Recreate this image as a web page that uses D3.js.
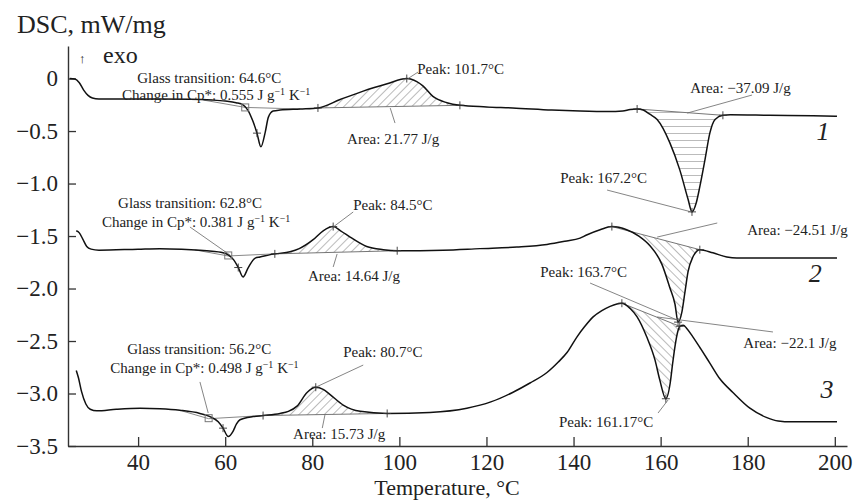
<!DOCTYPE html>
<html><head><meta charset="utf-8">
<script src="https://cdn.jsdelivr.net/npm/d3@7"></script>
<style>body{margin:0;background:#fff}svg{display:block}</style>
</head><body>
<svg id="chart" width="857" height="500"></svg>
<script>
// ---- data ----
const xTicks = [40, 60, 80, 100, 120, 140, 160, 180, 200];
const yTicks = [0, -0.5, -1.0, -1.5, -2.0, -2.5, -3.0, -3.5];

const temp1 = [24.3,25.5,26.5,27.5,28.5,29.5,31,35,45,52,57,60,62.5,64.1,65.2,66.4,67.3,68.2,69.2,69.9,71,72.6,77.2,81.3,86.4,91.7,97.2,101.7,104,105.4,107.7,110.9,113.9,120,126,135,141.5,148,151.3,153,154.6,156,157.5,159.2,162.1,164.4,166.3,167.2,168.2,169,170.2,171.3,172.5,174.3,176,185,195,200.5];
const dsc1 = [0.0,-0.005,-0.04,-0.11,-0.16,-0.185,-0.195,-0.195,-0.195,-0.197,-0.205,-0.215,-0.23,-0.25,-0.30,-0.41,-0.52,-0.65,-0.51,-0.37,-0.31,-0.30,-0.29,-0.28,-0.20,-0.12,-0.05,0.0,-0.03,-0.07,-0.17,-0.23,-0.255,-0.27,-0.28,-0.30,-0.31,-0.315,-0.31,-0.295,-0.29,-0.30,-0.34,-0.39,-0.61,-0.87,-1.15,-1.27,-1.18,-1.03,-0.77,-0.52,-0.39,-0.35,-0.345,-0.35,-0.355,-0.36];

const temp2 = [25.8,26.5,27.3,28.2,29.2,31,40,45,50,54.2,57,59,60.7,62,63,64.1,65.3,66.9,68,71.4,74.9,77,80.2,82.5,84.8,86.5,88.7,92.5,96.3,99.5,110,118.5,127,133.9,138,141.5,143,146.1,148.8,152.2,155,157.5,160.3,162.1,163.3,164,164.9,165.6,166.3,167.4,169,172,175.2,177.5,200.5];
const dsc2 = [-1.45,-1.47,-1.53,-1.60,-1.625,-1.635,-1.625,-1.62,-1.625,-1.635,-1.645,-1.655,-1.68,-1.73,-1.80,-1.89,-1.80,-1.71,-1.70,-1.67,-1.65,-1.62,-1.535,-1.45,-1.41,-1.45,-1.51,-1.60,-1.63,-1.64,-1.635,-1.62,-1.605,-1.58,-1.55,-1.52,-1.49,-1.44,-1.41,-1.44,-1.50,-1.59,-1.77,-1.99,-2.15,-2.32,-2.22,-2.03,-1.84,-1.70,-1.63,-1.66,-1.70,-1.71,-1.71];

const temp3 = [25.8,26.3,27,28,29,30.5,35,40.5,45,49.6,54.2,56.5,58.4,59.5,60.7,61.8,62.6,63.4,66.4,68.7,72.6,74.5,76.5,78.8,80.8,82.5,84.1,87.1,91,97.2,107,115.5,121,126,130,133.9,136.5,138.5,140.8,142.6,144.5,146.5,148.4,151.1,153,154.6,156.8,158.7,159.8,161.2,162.2,162.8,163.3,164,164.4,165.2,166,167.4,169.3,171.3,173.6,176.6,180.5,184.4,187,190,200.5];
const dsc3 = [-2.78,-2.85,-2.98,-3.10,-3.15,-3.165,-3.15,-3.14,-3.145,-3.16,-3.19,-3.22,-3.27,-3.33,-3.41,-3.36,-3.29,-3.25,-3.22,-3.21,-3.19,-3.17,-3.12,-2.99,-2.94,-2.96,-3.01,-3.11,-3.17,-3.19,-3.18,-3.14,-3.08,-2.99,-2.90,-2.80,-2.70,-2.61,-2.46,-2.36,-2.27,-2.21,-2.17,-2.14,-2.19,-2.27,-2.46,-2.68,-2.87,-3.05,-2.90,-2.70,-2.55,-2.40,-2.36,-2.35,-2.38,-2.46,-2.58,-2.71,-2.86,-2.99,-3.14,-3.23,-3.262,-3.27,-3.27];

// integration ranges (start, end temperature)
const areas1 = [[81.3, 113.9], [154.6, 174.3]];
const areas2 = [[71.4, 99.5], [148.8, 169]];
const areas3 = [[68.7, 97.2], [151.1, 164.4]];

// evaluation markers (temperatures)
const marks1 = [67.3, 81.3, 101.7, 113.9, 154.6, 167.2, 174.3];
const marks2 = [63, 71.4, 84.8, 99.5, 148.8, 164, 169];
const marks3 = [59.5, 68.7, 80.8, 97.2, 151.1, 161.2, 164.4];

// glass transition points and tangents [T, value]
const glass1 = [64.6, -0.275];
const glass2 = [60.7, -1.685];
const glass3 = [56.2, -3.235];
const tangent1 = [[55, -0.205], [64.6, -0.275], [77.2, -0.29]];
const tangent2 = [[53, -1.632], [60.7, -1.69], [71.4, -1.67]];
const tangent3 = [[50, -3.165], [56.2, -3.24], [68.7, -3.21]];

// annotation texts: [T, value, text, anchor]
const labels1 = [
  [39.8, -0.043, "Glass transition: 64.6°C", "start"],
  [36.3, -0.205, "Change in Cp*: 0.555 J g|−1| K|−1|", "start"],
  [104.1, 0.043, "Peak: 101.7°C", "start"],
  [88.0, -0.624, "Area: 21.77 J/g", "start"],
  [166.8, -0.138, "Area: −37.09 J/g", "start"],
  [156.9, -0.995, "Peak: 167.2°C", "end"]
];
const labels2 = [
  [35.4, -1.233, "Glass transition: 62.8°C", "start"],
  [31.7, -1.414, "Change in Cp*: 0.381 J g|−1| K|−1|", "start"],
  [89.4, -1.252, "Peak: 84.5°C", "start"],
  [79.0, -1.93, "Area: 14.64 J/g", "start"],
  [179.9, -1.49, "Area: −24.51 J/g", "start"],
  [152.3, -1.89, "Peak: 163.7°C", "end"]
];
const labels3 = [
  [37.5, -2.625, "Glass transition: 56.2°C", "start"],
  [33.6, -2.805, "Change in Cp*: 0.498 J g|−1| K|−1|", "start"],
  [87.1, -2.65, "Peak: 80.7°C", "start"],
  [75.6, -3.43, "Area: 15.73 J/g", "start"],
  [179.0, -2.567, "Area: −22.1 J/g", "start"],
  [158.3, -3.32, "Peak: 161.17°C", "end"]
];
// leader lines: [T1, v1, T2, v2]
const leaders1 = [[104.3,0.062,102,0.0],[99.0,-0.424,97.9,-0.281],[181.0,-0.157,166.1,-0.329],[147.7,-1.062,167.2,-1.272]];
const leaders2 = [[51.9,-1.414,61.1,-1.681],[89.4,-1.271,84.8,-1.414],[85.7,-1.671,84.8,-1.795],[173.0,-1.376,159.2,-1.51],[143.8,-1.948,163.8,-2.30]];
const leaders3 = [[54.2,-2.89,56.1,-3.186],[91.7,-2.729,80.9,-2.938],[82.9,-3.205,82.3,-3.329],[185.8,-2.414,159.2,-2.271],[159.4,-3.186,161.7,-3.062]];

// curve numbers: [T, value, text]
const curveNames = [[197.3, -0.586, "1"], [195.5, -1.94, "2"], [198.2, -3.04, "3"]];

// ---- drawing ----
const svg = d3.select("#chart");
const x = d3.scaleLinear().domain([23.9, 202.8]).range([68, 847]);
const y = d3.scaleLinear().domain([-3.5, 0.31]).range([446, 46]);
const serif = "'Liberation Serif','Times New Roman',serif";

const defs = svg.append("defs");
function hatch(id, angle, spacing) {
  const p = defs.append("pattern").attr("id", id).attr("patternUnits", "userSpaceOnUse")
    .attr("width", spacing).attr("height", spacing).attr("patternTransform", `rotate(${angle})`);
  p.append("line").attr("x1", 0).attr("y1", 0).attr("x2", 0).attr("y2", spacing)
    .attr("stroke", "#555").attr("stroke-width", 0.8);
}
hatch("hFwd", 45, 6);
hatch("hBack", -45, 6);
hatch("hHoriz", 90, 7);

const series = [
  {T: temp1, V: dsc1, areas: areas1, pats: ["hFwd", "hHoriz"], marks: marks1, glass: glass1, tan: tangent1, labels: labels1, leaders: leaders1},
  {T: temp2, V: dsc2, areas: areas2, pats: ["hFwd", "hBack"], marks: marks2, glass: glass2, tan: tangent2, labels: labels2, leaders: leaders2},
  {T: temp3, V: dsc3, areas: areas3, pats: ["hFwd", "hBack"], marks: marks3, glass: glass3, tan: tangent3, labels: labels3, leaders: leaders3}
];

function interp(T, V, t) {
  for (let i = 1; i < T.length; i++) {
    if (t <= T[i]) { const f = (t - T[i-1]) / (T[i] - T[i-1]); return V[i-1] + f * (V[i] - V[i-1]); }
  }
  return V[V.length - 1];
}

// axes
const xAxis = d3.axisBottom(x).tickValues(xTicks).tickSize(-9).tickSizeOuter(0).tickPadding(8).tickFormat(d3.format("d"));
const yAxis = d3.axisLeft(y).tickValues(yTicks).tickSize(-8).tickSizeOuter(0).tickPadding(10)
  .tickFormat(d => d === 0 ? "0" : "\u2212" + Math.abs(d).toFixed(1));
const gx = svg.append("g").attr("transform", "translate(0,446)").call(xAxis);
const gy = svg.append("g").attr("transform", "translate(68,0)").call(yAxis);
[gx, gy].forEach(g => {
  g.select(".domain").attr("stroke", "#333").attr("stroke-width", 1.4);
  g.selectAll(".tick line").attr("stroke", "#333").attr("stroke-width", 1.3);
  g.selectAll(".tick text").attr("font-family", serif).attr("font-size", 23).attr("fill", "#222");
});

svg.append("text").attr("x", 447).attr("y", 495).attr("text-anchor", "middle")
  .attr("font-family", serif).attr("font-size", 22).attr("fill", "#222").text("Temperature, °C");
svg.append("text").attr("x", 17).attr("y", 33)
  .attr("font-family", serif).attr("font-size", 26).attr("fill", "#222").text("DSC, mW/mg");
svg.append("text").attr("x", 79).attr("y", 63)
  .attr("font-family", serif).attr("font-size", 13).attr("fill", "#222").text("\u2191");
svg.append("text").attr("x", 103).attr("y", 63)
  .attr("font-family", serif).attr("font-size", 24).attr("fill", "#222").text("exo");

const line = d3.line().x(d => x(d[0])).y(d => y(d[1])).curve(d3.curveMonotoneX);

series.forEach(s => {
  const pts = s.T.map((t, i) => [t, s.V[i]]);
  // hatched areas
  s.areas.forEach((a, k) => {
    const [ta, tb] = a;
    const va = interp(s.T, s.V, ta), vb = interp(s.T, s.V, tb);
    const base = t => va + (vb - va) * (t - ta) / (tb - ta);
    const sub = [[ta, va]].concat(pts.filter(p => p[0] > ta && p[0] < tb)).concat([[tb, vb]]);
    const area = d3.area().x(d => x(d[0])).y0(d => y(base(d[0]))).y1(d => y(d[1])).curve(d3.curveMonotoneX);
    svg.append("path").attr("d", area(sub)).attr("fill", `url(#${s.pats[k]})`).attr("stroke", "none");
    svg.append("line").attr("x1", x(ta)).attr("y1", y(va)).attr("x2", x(tb)).attr("y2", y(vb))
      .attr("stroke", "#666").attr("stroke-width", 0.9);
  });
  // tangents
  svg.append("path").attr("d", d3.line().x(d => x(d[0])).y(d => y(d[1]))(s.tan))
    .attr("fill", "none").attr("stroke", "#888").attr("stroke-width", 1);
  // curve
  svg.append("path").attr("d", line(pts)).attr("fill", "none").attr("stroke", "#111").attr("stroke-width", 1.5);
  // glass square
  svg.append("rect").attr("x", x(s.glass[0]) - 3.5).attr("y", y(s.glass[1]) - 3.5).attr("width", 7).attr("height", 7)
    .attr("fill", "none").attr("stroke", "#777").attr("stroke-width", 1);
  // markers
  s.marks.forEach(t => {
    const cx = x(t), cy = y(interp(s.T, s.V, t));
    svg.append("path").attr("d", `M${cx-4},${cy}H${cx+4}M${cx},${cy-4}V${cy+4}`)
      .attr("stroke", "#333").attr("stroke-width", 0.9);
  });
  // leaders
  s.leaders.forEach(l => {
    svg.append("line").attr("x1", x(l[0])).attr("y1", y(l[1])).attr("x2", x(l[2])).attr("y2", y(l[3]))
      .attr("stroke", "#666").attr("stroke-width", 0.8);
  });
  // labels
  s.labels.forEach(l => {
    const t = svg.append("text").attr("x", x(l[0])).attr("y", y(l[1])).attr("text-anchor", l[3])
      .attr("font-family", serif).attr("font-size", 15).attr("fill", "#222");
    const parts = l[2].split("|");
    parts.forEach((p, i) => {
      if (i % 2 === 1) t.append("tspan").attr("dy", -5).attr("font-size", 10).text(p);
      else t.append("tspan").attr("dy", i === 0 ? 0 : 5).text(p);
    });
  });
});

curveNames.forEach(c => {
  svg.append("text").attr("x", x(c[0])).attr("y", y(c[1])).attr("text-anchor", "middle")
    .attr("font-family", serif).attr("font-style", "italic").attr("font-size", 26).attr("fill", "#222").text(c[2]);
});
</script>
</body></html>
